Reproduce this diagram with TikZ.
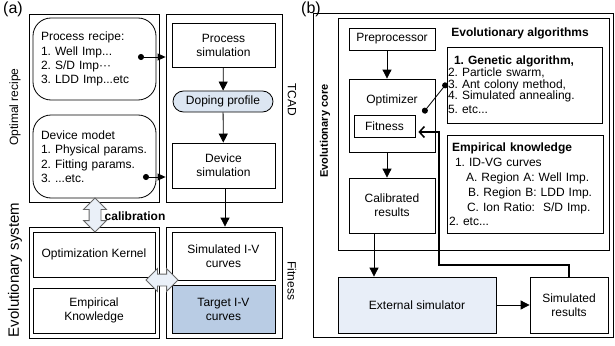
\documentclass[tikz,border=0pt]{standalone}
\usepackage{fontspec}
\setmainfont{Liberation Sans}
\usetikzlibrary{arrows.meta, shapes.arrows}

\definecolor{dopefill}{HTML}{DCE6F2}
\definecolor{targetfill}{HTML}{B9CCE4}
\definecolor{extfill}{HTML}{E8EEF8}
\definecolor{blockfill}{HTML}{EAF0F8}

\tikzset{
	box/.style={draw, line width=0.8pt, align=center, inner sep=0pt},
	frame/.style={draw, line width=0.8pt, inner sep=0pt},
	arr/.style={line width=0.8pt, -{Triangle[length=9pt,width=9pt]}},
	dotarr/.style={line width=0.8pt, {Circle[length=6pt]}-{Triangle[length=8pt,width=7pt]}},
	blockarr/.style={double arrow, draw=black!60, fill=blockfill, line width=0.8pt,
		inner xsep=0pt, inner ysep=5.5pt, double arrow head extend=5.5pt, double arrow head indent=0pt},
}

\begin{document}
\frenchspacing
\begin{tikzpicture}[x=1pt, y=-1pt, font=\fontsize{12}{14}\selectfont]
		\useasboundingbox (0,0) rectangle (615,345);
		% (a)
		\node (lbla) at (13,9) {\fontsize{16}{16}\selectfont (a)};
		\node (recipeframe) at (94,108) [frame, minimum width=130pt, minimum height=188pt] {};
		\node (tcadframe) at (224,108) [frame, minimum width=116pt, minimum height=188pt] {};
		\node (evoframe) at (94,282.5) [frame, minimum width=130pt, minimum height=111pt] {};
		\node (fitframe) at (224,282.5) [frame, minimum width=116pt, minimum height=111pt] {};
		\node (optrecipe) at (15,107) [rotate=90] {Optimal recipe};
		\node (evosys) at (15,270) [rotate=90] {\fontsize{15}{15}\selectfont Evolutionary system};
		\node (tcad) at (292,100) [rotate=-90] {TCAD};
		\node (fitlbl) at (292,281) [rotate=-90] {Fitness};
		
		\node (recipe) at (94.5,59) [box, rounded corners=18pt, text width=115pt, align=left,
			inner xsep=4pt, minimum height=82pt] {\fontsize{12}{14.7}\selectfont\hspace*{4pt}Process recipe:\\\hspace*{4pt}1. Well Imp...\\\hspace*{4pt}2. S/D Imp···\\\hspace*{4pt}3. LDD Imp...etc};
		\node (devmodel) at (94.5,156.5) [box, rounded corners=18pt, text width=115pt, align=left,
			inner xsep=4pt, minimum height=83pt] {\fontsize{12}{14.3}\selectfont\hspace*{4pt}Device modet\\\hspace*{4pt}1. Physical params.\\\hspace*{4pt}2. Fitting params.\\\hspace*{4pt}3. ...etc.};
		\node (procsim) at (223.5,45) [box, minimum width=103pt, minimum height=44pt] {Process\\simulation};
		\node (doping) at (223,101.5) [box, fill=dopefill, rounded corners=10.5pt, minimum width=100pt, minimum height=21pt] {Doping profile};
		\node (devsim) at (223.5,165.5) [box, minimum width=103pt, minimum height=45pt] {Device\\simulation};
		\node (kernel) at (94,254.5) [box, minimum width=122pt, minimum height=45pt] {Optimization Kernel};
		\node (empir) at (94,310.5) [box, minimum width=122pt, minimum height=45pt] {Empirical\\Knowledge};
		\node (simiv) at (223.5,256) [box, minimum width=103pt, minimum height=48pt] {Simulated I-V\\curves};
		\node (target) at (223.5,309) [box, fill=targetfill, minimum width=103pt, minimum height=48pt] {Target I-V\\curves};
		
		\coordinate (rdot) at (138,57);
		\coordinate (ddot) at (143,177);
		\draw[dotarr] (rdot) -- (rdot -| tcadframe.west);
		\draw[dotarr] (ddot) -- (ddot -| tcadframe.west);
		\draw[arr] (procsim) -- (doping);
		\draw[arr] (doping) -- (devsim);
		\draw[arr] ([xshift=1.5pt]devsim.south) -- ([xshift=1.5pt]devsim.south |- fitframe.north);
		
		\node (calarrow) at (95,215) [blockarr, rotate=90, minimum height=34pt] {};
		\node (callbl) at (135,216) {\bfseries calibration};
		\node (fitarrow) at (162,280) [blockarr, minimum height=32pt] {};
		
		% (b)
		\node (lblb) at (311,9) {\fontsize{16}{16}\selectfont (b)};
		\node (outerb) at (463.25,175) [frame, minimum width=300.5pt, minimum height=324pt] {};
		\node (coreframe) at (473.5,134) [frame, minimum width=271pt, minimum height=232pt] {};
		\node (corelbl) at (325,131) [rotate=90] {\fontsize{11}{11}\selectfont\bfseries Evolutionary core};
		
		\node (prep) at (392,39) [box, minimum width=86pt, minimum height=22pt] {Preprocessor};
		\node (optim) at (392,115.5) [box, minimum width=86pt, minimum height=73pt] {};
		\node (optlbl) at (392,100) {Optimizer};
		\node (fitness) at (384.5,126) [box, minimum width=61pt, minimum height=22pt] {Fitness};
		\node (calib) at (392,205.5) [box, minimum width=86pt, minimum height=55pt] {Calibrated\\results};
		\node (extsim) at (417,305) [box, fill=extfill, minimum width=158pt, minimum height=56pt] {External simulator};
		\node (simres) at (569,305) [box, minimum width=78pt, minimum height=56pt] {Simulated\\results};
		
		\node (eatitle) at (520,33) {\bfseries Evolutionary algorithms};
		\node (ealist) at (524.5,85) [box, text width=153pt, align=left, inner xsep=1pt, minimum height=76pt]
			{\fontsize{12}{11.8}\selectfont\hspace*{6pt}\bfseries 1. Genetic algorithm,\\\mdseries 2. Particle swarm,\\3. Ant colony method,\\4. Simulated annealing.\\5. etc...};
		\node (empk) at (525,184) [box, text width=152pt, align=left, inner xsep=2pt, minimum height=98pt]
			{\fontsize{12}{14.9}\selectfont\hspace*{3pt}\bfseries Empirical knowledge\\\mdseries
				\hspace*{6pt}1. ID-VG curves\\
				\hspace*{17pt}A. Region A: Well Imp.\\
				\hspace*{19pt}B. Region B: LDD Imp.\\
				\hspace*{18pt}C. Ion Ratio:\ \ S/D Imp.\\
				2. etc...};
		
		\coordinate (odot) at (423,113);
		\coordinate (edot) at (447,83);
		\draw[line width=0.8pt, {Circle[length=6pt]}-{Circle[length=6pt]}] (odot) -- (edot);
		\draw[arr] ([xshift=-5pt]prep.south) -- ([xshift=-5pt]optim.north);
		\draw[arr] ([xshift=-5pt]optim.south) -- ([xshift=-5pt]calib.north);
		\draw[arr] ([xshift=-18pt]calib.south) -- ([xshift=-18pt]calib.south |- extsim.north);
		\draw[arr] (extsim) -- (simres);
		\draw[line width=1.5pt, -{Straight Barb[length=5pt,width=11pt]}]
			(simres.north) |- (439,265) |- ([yshift=-6pt,xshift=3pt]fitness.east);
	\end{tikzpicture}
\end{document}
